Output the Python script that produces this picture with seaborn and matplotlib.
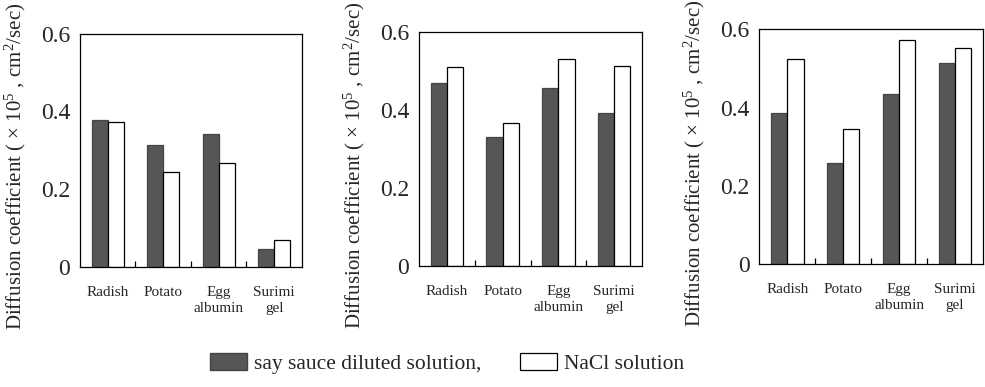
import matplotlib
matplotlib.use("Agg")
import matplotlib.pyplot as plt
import seaborn as sns
import pandas as pd
from matplotlib.patches import Patch
from matplotlib.ticker import FixedLocator

sns.set_theme(style="white")
plt.rcParams['font.family'] = ['Liberation Serif', 'DejaVu Serif']
plt.rcParams['mathtext.fontset'] = 'custom'
plt.rcParams['mathtext.rm'] = 'Liberation Serif'
plt.rcParams['mathtext.it'] = 'Liberation Serif:italic'

categories = ["Radish", "Potato", "Egg\nalbumin", "Surimi\ngel"]
series_names = ["say sauce diluted solution,", "NaCl solution"]

panel1_soy = [0.377, 0.315, 0.343, 0.046]
panel1_nacl = [0.373, 0.245, 0.268, 0.069]
panel2_soy = [0.467, 0.331, 0.455, 0.392]
panel2_nacl = [0.510, 0.366, 0.529, 0.512]
panel3_soy = [0.385, 0.258, 0.434, 0.513]
panel3_nacl = [0.525, 0.345, 0.573, 0.553]

yticks = [0, 0.2, 0.4, 0.6]
ytick_labels = ["0", "0.2", "0.4", "0.6"]
ylabel = "Diffusion coefficient ( × 10$^5$ , cm$^2$/sec)"

dark = "#565656"
palette = {series_names[0]: dark, series_names[1]: "white"}

panels = [(panel1_soy, panel1_nacl), (panel2_soy, panel2_nacl), (panel3_soy, panel3_nacl)]
positions = [
    [0.0812, 0.310, 0.2254, 0.603],
    [0.4254, 0.3134, 0.2264, 0.605],
    [0.7710, 0.3180, 0.2270, 0.606],
]

fig = plt.figure(figsize=(9.85, 3.87), dpi=100)

for (soy, nacl), pos in zip(panels, positions):
    ax = fig.add_axes(pos)
    df = pd.DataFrame({
        "food": categories * 2,
        "D": soy + nacl,
        "solution": [series_names[0]] * 4 + [series_names[1]] * 4,
    })
    sns.barplot(data=df, x="food", y="D", hue="solution", hue_order=series_names,
                order=categories, palette=palette, edgecolor="black", linewidth=0.9,
                width=0.58, legend=False, ax=ax, errorbar=None)
    for p in ax.patches:
        fc = p.get_facecolor()
        if fc[0] < 0.5:
            p.set_edgecolor("#444444")
    ax.set_xlim(-0.5, 3.5)
    ax.set_ylim(0, 0.6)
    ax.set_yticks(yticks)
    ax.set_yticklabels(ytick_labels, fontsize=17)
    ax.tick_params(axis="y", length=0, pad=7)
    ax.tick_params(axis="x", which="major", length=0, pad=14, labelsize=11)
    ax.xaxis.set_minor_locator(FixedLocator([0.5, 1.5, 2.5]))
    ax.tick_params(axis="x", which="minor", direction="in", length=4, width=0.9,
                   bottom=True, color="black")
    ax.set_xlabel("")
    ax.set_ylabel(ylabel, fontsize=15)
    ax.yaxis.set_label_coords(-0.235, 0.43)
    for s in ax.spines.values():
        s.set_visible(True)
        s.set_color("black")
        s.set_linewidth(0.9)
    for lbl in ax.get_xticklabels():
        lbl.set_linespacing(1.3)

handles = [Patch(facecolor=dark, edgecolor="#444444", label=series_names[0]),
           Patch(facecolor="white", edgecolor="black", linewidth=0.9, label=series_names[1])]
fig.legend(handles=handles, loc="center", bbox_to_anchor=(0.454, 0.06), ncol=2,
           frameon=False, fontsize=15.5, handlelength=1.7, handleheight=0.85,
           handletextpad=0.35, columnspacing=1.8)

fig.savefig("out.png", dpi=100)
